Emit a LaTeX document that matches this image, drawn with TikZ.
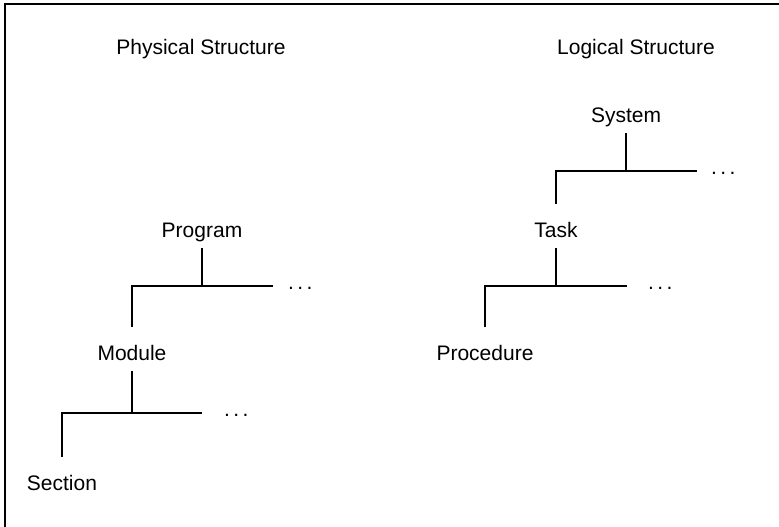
\documentclass[tikz,border=0pt]{standalone}
\usepackage{fontspec}
\setmainfont{Liberation Sans}
\newcommand{\moredots}{.\hspace{0.16em}.\hspace{0.16em}.}
\begin{document}
\begin{tikzpicture}[x=1pt,y=-1pt,
    lbl/.style={font=\fontsize{21}{25}\selectfont, inner sep=0pt,
      text height=26pt, text depth=4pt, outer ysep=7pt, anchor=base},
    more/.style={font=\fontsize{21}{25}\selectfont, inner sep=0pt, anchor=base west},
    tree/.style={line width=1.1pt}]
  \useasboundingbox (0,0) rectangle (779,527);
  \draw[line width=1.3pt] (5,527) -- (5,4) -- (779,4);
  \draw
    (201,55) node[lbl] (phys){Physical Structure}
    (636,55) node[lbl] (logi){Logical Structure}
    (202,237) node[lbl] (prog){Program}
    (132,360) node[lbl] (mod){Module}
    (62,490) node[lbl] (sect){Section}
    (626,122) node[lbl] (sys){System}
    (556,237) node[lbl] (task){Task}
    (485,360) node[lbl] (proc){Procedure};
  \coordinate (jprog) at (202,286);
  \coordinate (eprog) at (273,286);
  \coordinate (jmod) at (132,413);
  \coordinate (emod) at (202,413);
  \coordinate (jsys) at (626,171);
  \coordinate (esys) at (697,171);
  \coordinate (jtask) at (556,286);
  \coordinate (etask) at (627,286);
  \draw
    (288,289.5) node[more] (dprog){\moredots}
    (224,416.5) node[more] (dmod){\moredots}
    (711,174.5) node[more] (dsys){\moredots}
    (648,289.5) node[more] (dtask){\moredots};
  \begin{scope}[tree]
    \draw (prog) -- (jprog);
    \draw (mod) |- (jprog) -- (eprog);
    \draw (mod) -- (jmod);
    \draw (sect) |- (jmod) -- (emod);
    \draw (sys) -- (jsys);
    \draw (task) |- (jsys) -- (esys);
    \draw (task) -- (jtask);
    \draw (proc) |- (jtask) -- (etask);
  \end{scope}
\end{tikzpicture}
\end{document}
